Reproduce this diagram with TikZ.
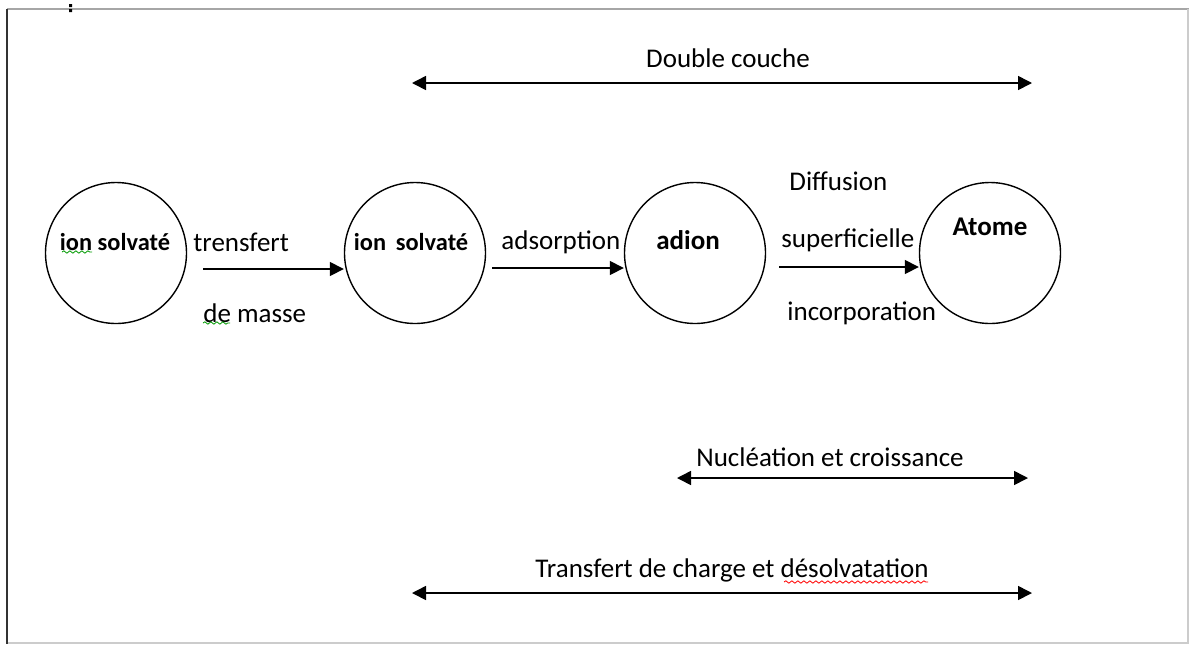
\documentclass[tikz,border=0pt]{standalone}
\usepackage{fontspec}
\setmainfont{Carlito}
\usetikzlibrary{arrows.meta,decorations.pathmorphing}
\tikzset{
  etape/.style = {draw, circle, line width=0.7pt, minimum size=70.5pt, inner sep=0},
  lab/.style = {inner sep=0, font=\fontsize{13.5}{15}\selectfont},
  gras/.style = {inner sep=0, font=\fontsize{#1}{15}\selectfont\bfseries},
  gras/.default = 13.5,
  fl/.style = {line width=0.8pt, -{Triangle[length=7pt,width=7pt]}},
  dfl/.style = {line width=0.8pt, {Triangle[length=7pt,width=7pt]}-{Triangle[length=7pt,width=7pt]}},
  ondul/.style = {decorate, decoration={snake, amplitude=0.6pt, segment length=3pt}, line width=0.4pt}
}
\begin{document}
\begin{tikzpicture}[x=0.5pt, y=-0.5pt]
      \useasboundingbox (0,0) rectangle (1189,644);
      \draw [gray!70, line width=1.2pt] (7,9) -- (1189,9);
      \draw [gray!40, line width=0.8pt] (1188,9) -- (1188,643) -- (7,643);
      \draw [black!80, line width=1.2pt] (7,9) -- (7,644);
      \fill (69,4) rectangle (72,7) (69,9) rectangle (72,12);

      \node [etape] (ion1) at (116,253) {};
      \node [etape] (ion2) at (415,253) {};
      \node [etape] (adion) at (695,253) {};
      \node [etape] (atome) at (990,253) {};

      \node [gras=12.2] (t1) at (115,242) {ion solvaté};
      \node [gras=12.2] (t2) at (411,242) {ion\hspace{0.4em}solvaté};
      \node [gras] (t3) at (688,240) {adion};
      \node [gras] (t4) at (990,227) {Atome};

      \coordinate (a1) at (203,269);
      \coordinate (a2) at (492,268);
      \coordinate (a3) at (779,267);
      \draw [fl] (a1) -- (ion2.west |- a1);
      \draw [fl] (a2) -- (adion.west |- a2);
      \draw [fl] (a3) -- (atome.west |- a3);

      \node [lab, anchor=west] (trensfert) at (193,242) {trensfert};
      \node [lab, anchor=west] (masse) at (203,313) {de masse};
      \node [lab, anchor=west] (adsorption) at (501,242) {adsorption};
      \node [lab, anchor=west] (diffusion) at (789,181) {Diffusion};
      \node [lab, anchor=west] (superf) at (781,240) {superficielle};
      \node [lab, anchor=west] (incorp) at (787,313) {incorporation};

      \node [lab] (dcouche) at (728,58) {Double couche};
      \coordinate (dc1) at (412,83);
      \coordinate (dc2) at (1032,83);
      \draw [dfl] (dc1) -- (dc2);

      \node [lab] (nucl) at (830,457) {Nucléation et croissance};
      \coordinate (nc1) at (677,478);
      \coordinate (nc2) at (1028,478);
      \draw [dfl] (nc1) -- (nc2);

      \node [lab] (transf) at (732,570) {Transfert de charge et désolvatation};
      \coordinate (tc1) at (412,593);
      \coordinate (tc2) at (1032,593);
      \draw [dfl] (tc1) -- (tc2);

      % soulignements du correcteur
      \draw [ondul, green!60!black] (62,252) -- (92,252);
      \draw [ondul, green!60!black] (203,323) -- (230,323);
      \draw [ondul, red] (784,582) -- (928,582);
    \end{tikzpicture}
\end{document}
